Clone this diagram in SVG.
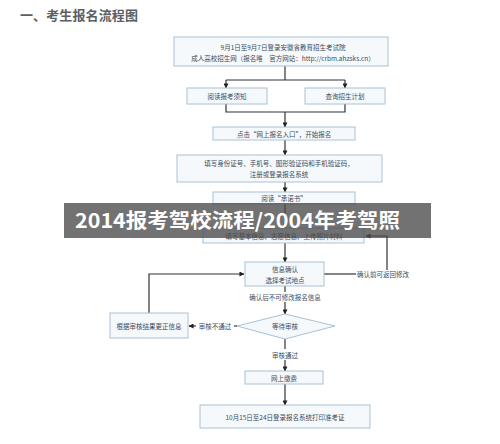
<svg xmlns="http://www.w3.org/2000/svg" width="500" height="444" viewBox="0 0 500 444">
<defs>
<marker id="ah" viewBox="0 0 6 6" refX="5.5" refY="3" markerWidth="5" markerHeight="5" orient="auto" markerUnits="userSpaceOnUse">
<path d="M0,0 L6,3 L0,6 z" fill="#222"/>
</marker>
<style>
.box{fill:#f5f9fc;stroke:#a9c2d4;stroke-width:1}
.t{font-family:"Noto Sans CJK SC","Liberation Serif",serif;font-size:6.5px;fill:#3c4a5a;text-anchor:middle;dominant-baseline:central}
.l{fill:none;stroke:#333;stroke-width:1.2}
.la{fill:none;stroke:#333;stroke-width:1.2;marker-end:url(#ah)}
.lab{font-family:"Noto Sans CJK SC","Liberation Serif",serif;font-size:6.5px;fill:#3c4a5a;dominant-baseline:central}
</style>
</defs>
<rect width="500" height="444" fill="#ffffff"/>
<text x="20" y="14" font-family="Noto Sans CJK SC, sans-serif" font-size="13" font-weight="bold" fill="#5a5f66" dominant-baseline="central" textLength="118" lengthAdjust="spacing">一、考生报名流程图</text>

<g id="connectors">
<path class="l" d="M285,66 V80 M226,80 H345"/>
<path class="la" d="M226,80 V88"/>
<path class="la" d="M345,80 V88"/>
<path class="l" d="M226,104 V112 H345 V104"/>
<path class="la" d="M285,112 V127"/>
<path class="la" d="M285,140 V155"/>
<path class="la" d="M285,182 V192"/>
<path class="la" d="M285,204 V228"/>
<path class="la" d="M285,243 V262"/>
<path class="l" d="M324,274 H356"/>
<path class="la" d="M387,270 V236 H366"/>
<path class="l" d="M285,286 V292"/>
<path class="la" d="M285,302 V314"/>
<path class="l" d="M237,326 H234"/>
<path class="la" d="M196,326 H189"/>
<path class="la" d="M149,313 V274 H244"/>
<path class="l" d="M285,339 V349"/>
<path class="la" d="M285,360 V371"/>
<path class="la" d="M285,384 V405"/>
<text class="lab" x="357" y="274">确认前可返回修改</text>
<text class="lab" x="285" y="297" text-anchor="middle">确认后不可修改报名信息</text>
<text class="lab" x="215" y="326" text-anchor="middle">审核不通过</text>
<text class="lab" x="285" y="355" text-anchor="middle">审核通过</text>
</g>

<g id="n1"><rect class="box" x="174" y="37" width="214" height="29"/>
<text class="t" x="283" y="47">9月1日至9月7日登录安徽省教育招生考试院</text>
<text class="t" x="283" y="58">成人高校招生网（报名唯　官方网站：http://crbm.ahzsks.cn）</text></g>
<g id="n2"><rect class="box" x="187" y="88" width="80" height="16"/><text class="t" x="227" y="96">阅读报考须知</text></g>
<g id="n3"><rect class="box" x="305" y="88" width="80" height="16"/><text class="t" x="345" y="96">查询招生计划</text></g>
<g id="n4"><rect class="box" x="213" y="127" width="142" height="13"/><text class="t" x="284" y="133.5">点击“网上报名入口”，开始报名</text></g>
<g id="n5"><rect class="box" x="177" y="155" width="205" height="27"/>
<text class="t" x="279" y="163">填写身份证号、手机号、图形验证码和手机验证码，</text>
<text class="t" x="279" y="174">注册或登录报名系统</text></g>
<g id="n6"><rect class="box" x="213" y="192" width="142" height="12"/><text class="t" x="284" y="198">阅读“承诺书”</text></g>
<g id="n7"><rect class="box" x="203" y="228" width="161" height="15"/><text class="t" x="284" y="236">填写基本信息、志愿信息、上传照片材料</text></g>
<g id="n8"><rect class="box" x="245" y="262" width="79" height="24"/>
<text class="t" x="285" y="269">信息确认</text><text class="t" x="285" y="280">选择考试地点</text></g>
<g id="n9"><polygon class="box" points="285,314 335,326 285,339 237,326"/><text class="t" x="285" y="326">等待审核</text></g>
<g id="n10"><rect class="box" x="110" y="313" width="78" height="25"/><text class="t" x="149" y="325.5">根据审核结果更正信息</text></g>
<g id="n11"><rect class="box" x="245" y="371" width="78" height="13"/><text class="t" x="284" y="377.5">网上缴费</text></g>
<g id="n12"><rect class="box" x="200" y="405" width="170" height="23"/><text class="t" x="285" y="416.5">10月15日至24日登录报名系统打印准考证</text></g>

<rect x="64" y="203" width="367" height="35" fill="#4a4a4a" fill-opacity="0.78"/>
<text x="75" y="219" font-family="Noto Sans CJK SC, sans-serif" font-size="20" font-weight="bold" fill="#ffffff" dominant-baseline="central" textLength="325" lengthAdjust="spacingAndGlyphs">2014报考驾校流程/2004年考驾照</text>
</svg>
